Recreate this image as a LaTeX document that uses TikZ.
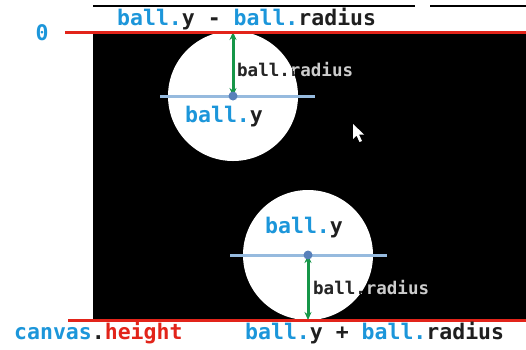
\documentclass[tikz,border=0pt]{standalone}
\usepackage{fontspec}
\setmonofont{DejaVu Sans Mono}
\usepackage{xcolor}
\usetikzlibrary{arrows.meta}
\usetikzlibrary{positioning}

\definecolor{codeblue}{RGB}{28,150,218}
\definecolor{edgered}{RGB}{226,36,26}
\definecolor{radgreen}{RGB}{22,150,72}
\definecolor{axisblue}{RGB}{150,186,222}
\definecolor{dotblue}{RGB}{88,128,186}

\begin{document}
\begin{tikzpicture}[x=1pt, y=-1pt, >=Stealth,
  code/.style={font=\ttfamily\bfseries\fontsize{21.5}{22}\selectfont, inner sep=0pt, anchor=west, text=black!88},
  radlabel/.style={font=\ttfamily\bfseries\fontsize{17.5}{18}\selectfont, inner sep=0pt, anchor=west},
  radarrow/.style={{Stealth[length=8pt,width=7pt]}-{Stealth[length=8pt,width=7pt]}, line width=3pt, radgreen},
  yline/.style={line width=3pt, axisblue},
  edge/.style={line width=3pt, edgered}]
  \useasboundingbox (0,0) rectangle (526,349);
  \fill[white] (0,0) rectangle (526,349);

  % ===== canvas =====
  \fill[black] (93,32) rectangle (526,320);
  \draw[line width=2.5pt] (93,6) -- (415,6);
  \draw[line width=2.5pt] (430,6) -- (526,6);

  % ===== upper ball, touching the top =====
  \coordinate (c1) at (233,96);
  \coordinate (t1) at (233,32);
  \fill[white] (c1) circle (65);
  \draw[yline] (160,96) -- (315,96);
  \draw[radarrow] (t1) -- (c1);
  \fill[dotblue] (c1) circle (4.5);
  \node[radlabel, text=white!80!black] (rad1w) at (237,70) {ball.radius};
  \begin{scope}
    \clip (c1) circle (65);
    \node[radlabel, text=black!85] (rad1) at (237,70) {ball.radius};
  \end{scope}
  \node[code] (y1) at (185,117) {\textcolor{codeblue}{ball.}y};

  % ===== lower ball, touching the bottom =====
  \coordinate (c2) at (308,255);
  \coordinate (b2) at (308,320);
  \fill[white] (c2) circle (65);
  \draw[yline] (230,255) -- (387,255);
  \draw[radarrow] (c2) -- (b2);
  \fill[dotblue] (c2) circle (4.5);
  \node[radlabel, text=white!80!black] (rad2w) at (313,288) {ball.radius};
  \begin{scope}
    \clip (c2) circle (65);
    \node[radlabel, text=black!85] (rad2) at (313,288) {ball.radius};
  \end{scope}
  \node[code] (y2) at (265,228) {\textcolor{codeblue}{ball.}y};

  % mouse pointer
  \fill[white] (353,124) -- (353,139) -- (356.5,135.5) -- (359.5,142) -- (362,141) -- (359,134.5) -- (364,134.5) -- cycle;

  % ===== edges of the canvas =====
  \draw[edge] (65,32) -- (526,32);
  \draw[edge] (68,320) -- (526,320);
  \node[code, anchor=center, text=codeblue] (zero) at (42,33) {0};
  \node[code] (top) at (117,19) {\textcolor{codeblue}{ball.}y - \textcolor{codeblue}{ball.}radius};
  \node[code] (height) at (14,333) {\textcolor{codeblue}{canvas}.\textcolor{edgered}{height}};
  \node[code] (bottom) at (245,333) {\textcolor{codeblue}{ball.}y + \textcolor{codeblue}{ball.}radius};
\end{tikzpicture}
\end{document}
